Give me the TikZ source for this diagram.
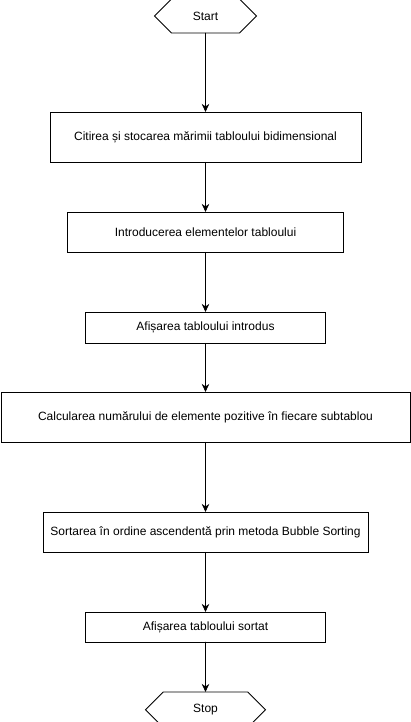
\documentclass[tikz,border=0pt]{standalone}
\usepackage{fontspec}
\setmainfont{Liberation Sans}
\usetikzlibrary{positioning,shapes.misc,arrows.meta}
\tikzset{
  block/.style    = {shape=rectangle, draw, line width=0.8pt, align=center,
                     inner sep=0pt, outer sep=0pt, font=\fontsize{12}{14}\selectfont},
  terminal/.style = {block, chamfered rectangle, chamfered rectangle xsep=18pt,
                     chamfered rectangle ysep=15pt},
  flow/.style     = {-{Stealth[length=8pt,width=7.5pt]}, line width=0.8pt}
}

\begin{document}
\begin{tikzpicture}
  \useasboundingbox (0,0) rectangle (411pt,-722pt);

  \node [terminal, minimum width=102pt, minimum height=30pt] (start) at (205.5pt,-16pt) {Start};
  \node [block, minimum width=311pt, minimum height=50pt, below=79pt of start] (read)
        {Citirea și stocarea mărimii tabloului bidimensional};
  \node [block, minimum width=276pt, minimum height=40pt, below=50pt of read] (input)
        {Introducerea elementelor tabloului};
  \node [block, minimum width=240pt, minimum height=31pt, below=60pt of input] (show)
        {Afișarea tabloului introdus};
  \node [block, minimum width=409pt, minimum height=50pt, below=49pt of show] (count)
        {Calcularea numărului de elemente pozitive în fiecare subtablou};
  \node [block, minimum width=325pt, minimum height=40pt, below=70pt of count] (sort)
        {Sortarea în ordine ascendentă prin metoda Bubble Sorting};
  \node [block, minimum width=240pt, minimum height=30pt, below=60pt of sort] (showsorted)
        {Afișarea tabloului sortat};
  \node [terminal, minimum width=120pt, minimum height=30pt, below=50pt of showsorted] (stop) {Stop};

  \draw [flow] (start) -- (read);
  \draw [flow] (read) -- (input);
  \draw [flow] (input) -- (show);
  \draw [flow] (show) -- (count);
  \draw [flow] (count) -- (sort);
  \draw [flow] (sort) -- (showsorted);
  \draw [flow] (showsorted) -- (stop);
\end{tikzpicture}
\end{document}
